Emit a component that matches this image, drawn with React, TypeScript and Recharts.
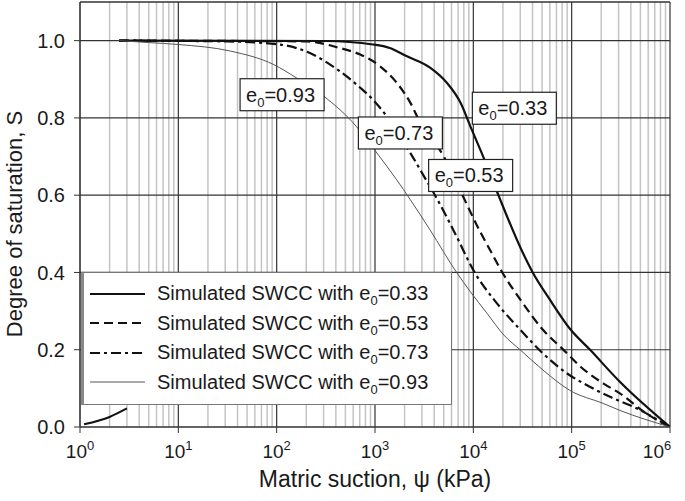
import React from 'react'
import { LineChart, Line, XAxis, YAxis, ReferenceLine, ReferenceDot } from 'recharts'

// ── Data (suction in kPa, degree of saturation) ──────────────────────────────

const swcc033 = [
  { x: 2.5, s: 1.0 }, { x: 316, s: 0.999 }, { x: 955, s: 0.99 }, { x: 1413, s: 0.981 },
  { x: 2089, s: 0.96 }, { x: 3631, s: 0.93 }, { x: 5370, s: 0.891 }, { x: 7413, s: 0.839 },
  { x: 9333, s: 0.778 }, { x: 12590, s: 0.7 }, { x: 18200, s: 0.597 }, { x: 30900, s: 0.458 },
  { x: 39810, s: 0.402 }, { x: 60260, s: 0.329 }, { x: 95500, s: 0.255 }, { x: 154900, s: 0.199 },
  { x: 309000, s: 0.117 }, { x: 1000000, s: 0 },
]

const swcc053 = [
  { x: 2.5, s: 1.0 }, { x: 200, s: 0.998 }, { x: 437, s: 0.981 }, { x: 708, s: 0.964 },
  { x: 1122, s: 0.934 }, { x: 1660, s: 0.891 }, { x: 2291, s: 0.839 }, { x: 2884, s: 0.787 },
  { x: 5012, s: 0.7 }, { x: 7586, s: 0.605 }, { x: 11750, s: 0.505 }, { x: 14790, s: 0.458 },
  { x: 19500, s: 0.402 }, { x: 30200, s: 0.329 }, { x: 51290, s: 0.251 }, { x: 83180, s: 0.199 },
  { x: 123000, s: 0.156 }, { x: 208900, s: 0.113 }, { x: 309000, s: 0.087 }, { x: 575000, s: 0.035 },
  { x: 1000000, s: 0 },
]

const swcc073 = [
  { x: 2.5, s: 1.0 }, { x: 31.6, s: 0.998 }, { x: 107, s: 0.99 }, { x: 234, s: 0.964 },
  { x: 437, s: 0.921 }, { x: 708, s: 0.878 }, { x: 955, s: 0.847 }, { x: 1318, s: 0.804 },
  { x: 2291, s: 0.709 }, { x: 3388, s: 0.635 }, { x: 4074, s: 0.6 }, { x: 6761, s: 0.493 },
  { x: 10000, s: 0.406 }, { x: 17380, s: 0.32 }, { x: 30200, s: 0.251 }, { x: 51290, s: 0.19 },
  { x: 95500, s: 0.134 }, { x: 131800, s: 0.113 }, { x: 245500, s: 0.078 }, { x: 426600, s: 0.052 },
  { x: 1000000, s: 0 },
]

const swcc093 = [
  { x: 2.5, s: 1.0 }, { x: 5, s: 0.995 }, { x: 10, s: 0.99 }, { x: 33.9, s: 0.973 },
  { x: 93.3, s: 0.938 }, { x: 158, s: 0.904 }, { x: 302, s: 0.856 }, { x: 646, s: 0.778 },
  { x: 1047, s: 0.709 }, { x: 1660, s: 0.64 }, { x: 2291, s: 0.588 }, { x: 3631, s: 0.51 },
  { x: 6761, s: 0.4 }, { x: 9333, s: 0.35 }, { x: 13800, s: 0.294 }, { x: 20420, s: 0.238 },
  { x: 30200, s: 0.199 }, { x: 51290, s: 0.147 }, { x: 95500, s: 0.095 }, { x: 208900, s: 0.061 },
  { x: 309000, s: 0.043 }, { x: 1000000, s: 0 },
]

// stray segment near the origin in the original figure
const straySegment = [
  { x: 1.1, s: 0.007 }, { x: 2.0, s: 0.026 }, { x: 3.0, s: 0.048 },
]

const decades = [1, 10, 100, 1000, 10000, 100000, 1000000]
const minorMultipliers = [2, 3, 4, 5, 6, 7, 8, 9]
const yTicks = [0, 0.2, 0.4, 0.6, 0.8, 1.0]

const annotations = [
  { label: '0.93', x: 113.5, s: 0.86 },
  { label: '0.73', x: 1812, s: 0.761 },
  { label: '0.53', x: 9390, s: 0.651 },
  { label: '0.33', x: 26120, s: 0.825 },
]

const seriesLabels = ['0.33', '0.53', '0.73', '0.93']

const minorTicks = decades.slice(0, -1).flatMap(d => minorMultipliers.map(m => d * m))

// ── Styles ────────────────────────────────────────────────────────────────────

const FONT = '"Liberation Sans", Arial, sans-serif'
const INK = '#1a1a1a'

const lineStyles: Record<string, { stroke: string; width: number; dash?: string }> = {
  '0.33': { stroke: '#111', width: 2.2 },
  '0.53': { stroke: '#111', width: 2.2, dash: '9 5' },
  '0.73': { stroke: '#111', width: 2.2, dash: '10 4 3 4' },
  '0.93': { stroke: '#555', width: 1 },
}

// ── Custom parts ──────────────────────────────────────────────────────────────

function XTick({ x, payload }: any) {
  const p = Math.round(Math.log10(payload.value))
  return (
    <text x={x} y={458} textAnchor="middle" fontSize={19} fill={INK} fontFamily={FONT}>
      <tspan>10</tspan>
      <tspan dy={-8} fontSize={13}>{p}</tspan>
    </text>
  )
}

function BoxLabel({ cx, cy, label }: any) {
  return (
    <g>
      <rect x={cx - 42} y={cy - 16} width={84} height={32} fill="#fff" stroke="#222" strokeWidth={1.2} />
      <text x={cx - 36} y={cy + 7} fontSize={20} fill={INK} fontFamily={FONT}>
        <tspan>e</tspan>
        <tspan dy={5} fontSize={13}>0</tspan>
        <tspan dy={-5}>={label}</tspan>
      </text>
    </g>
  )
}

function LegendBox() {
  return (
    <div style={styles.legend}>
      {seriesLabels.map(l => {
        const st = lineStyles[l]
        return (
          <div key={l} style={styles.legendRow}>
            <svg width={58} height={10} style={{ marginLeft: 5, marginRight: 10 }}>
              <line x1={1} y1={5} x2={56} y2={5} stroke={st.stroke} strokeWidth={st.width} strokeDasharray={st.dash} />
            </svg>
            <span>
              Simulated SWCC with e<sub style={{ fontSize: 13, lineHeight: 0 }}>0</sub>={l}
            </span>
          </div>
        )
      })}
    </div>
  )
}

// ── Main ──────────────────────────────────────────────────────────────────────

export default function App() {
  const seriesData: Record<string, typeof swcc033> = {
    '0.33': swcc033, '0.53': swcc053, '0.73': swcc073, '0.93': swcc093,
  }
  return (
    <div style={{ position: 'absolute', left: 0, top: 0, width: 685, height: 501, background: '#fff', fontFamily: FONT }}>
      <LineChart width={685} height={501} margin={{ top: 2, right: 15, bottom: 0, left: 0 }}>
        <XAxis
          dataKey="x"
          type="number"
          scale="log"
          domain={[1, 1000000]}
          ticks={decades}
          allowDataOverflow
          height={74}
          tickSize={6}
          stroke="#333"
          tick={<XTick />}
          label={{ value: 'Matric suction, ψ (kPa)', position: 'insideBottom', offset: 14, fontSize: 23, fill: INK, fontFamily: FONT }}
        />
        <YAxis
          dataKey="s"
          type="number"
          domain={[0, 1.1]}
          ticks={yTicks}
          allowDataOverflow
          width={80}
          tickSize={6}
          tickMargin={9}
          stroke="#333"
          tickFormatter={(v: number) => v.toFixed(1)}
          tick={{ fontSize: 20, fill: INK, fontFamily: FONT }}
          label={{
            content: () => (
              <text x={22} y={224} transform="rotate(-90 22 224)" textAnchor="middle" fontSize={22} fill={INK} fontFamily={FONT}>
                Degree of saturation, S
              </text>
            ),
          }}
        />

        {minorTicks.map(v => (
          <ReferenceLine key={`m${v}`} x={v} stroke="#c4c4c4" strokeWidth={1.5} />
        ))}
        {decades.map(v => (
          <ReferenceLine key={`d${v}`} x={v} stroke="#333" strokeWidth={1.2} />
        ))}
        {yTicks.map(v => (
          <ReferenceLine key={`h${v}`} y={v} stroke="#333" strokeWidth={1.2} />
        ))}
        <ReferenceLine y={1.1} stroke="#333" strokeWidth={1.5} />

        {seriesLabels.map(l => {
          const st = lineStyles[l]
          return (
            <Line
              key={l}
              data={seriesData[l]}
              dataKey="s"
              type="monotone"
              stroke={st.stroke}
              strokeWidth={st.width}
              strokeDasharray={st.dash}
              dot={false}
              isAnimationActive={false}
            />
          )
        })}
        <Line data={straySegment} dataKey="s" type="monotone" stroke="#111" strokeWidth={2} dot={false} isAnimationActive={false} />

        {annotations.map(a => (
          <ReferenceDot
            key={a.label}
            x={a.x}
            y={a.s}
            r={0}
            shape={(p: any) => <BoxLabel cx={p.cx} cy={p.cy} label={a.label} />}
          />
        ))}
      </LineChart>
      <div style={{ position: 'absolute', left: 81, top: 272 }}>
        <LegendBox />
      </div>
    </div>
  )
}

const styles = {
  legend: {
    boxSizing: 'border-box',
    width: 371,
    height: 133,
    background: '#fff',
    border: '1px solid #777',
    borderLeft: '3px solid #888',
    padding: '6px 0 0 0',
    fontSize: 20,
    color: INK,
    fontFamily: FONT,
    lineHeight: '29.5px',
  },
  legendRow: { display: 'flex', alignItems: 'center', height: 29.5, whiteSpace: 'nowrap' },
} as const
